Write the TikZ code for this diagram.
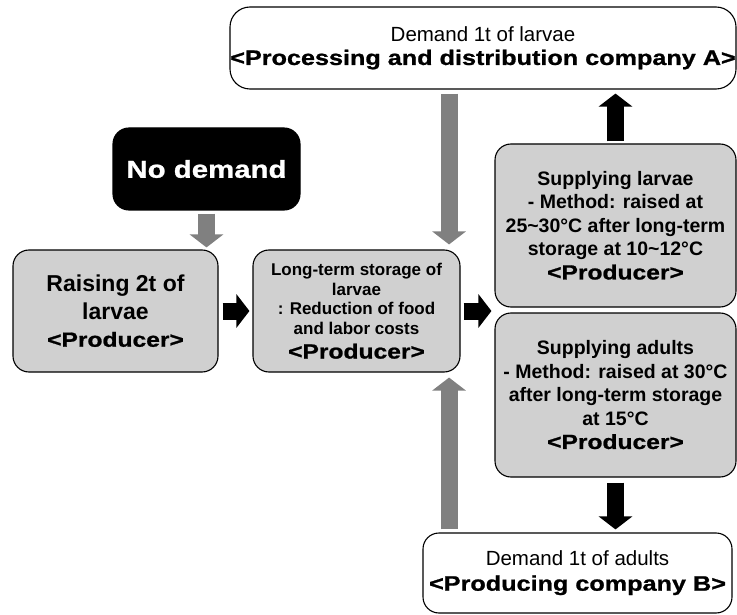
\documentclass[tikz,border=0pt]{standalone}
\usepackage{fontspec}
\setmainfont{Liberation Sans}
\newfontfamily\heavyfont{Liberation Sans}[FakeStretch=1.2,FakeBold=1]
\usetikzlibrary{arrows.meta}
\definecolor{boxgray}{RGB}{208,208,208}
\definecolor{arrgray}{RGB}{128,128,128}
\newcommand\tld{\char"7E\relax}
\newcommand\hv[1]{{\heavyfont\bfseries\fontsize{20.5}{25}\selectfont #1}}

\begin{document}
\begin{tikzpicture}[x=1pt,y=-1pt,
	box/.style={draw,line width=1.1pt,rounded corners=16pt,align=center,inner sep=0pt},
	graybox/.style={box,fill=boxgray},
	whitebox/.style={box,fill=white},
	bigarr/.style={line width=17pt,-{Triangle[width=33pt,length=13pt]}},
	grayarr/.style={bigarr,color=arrgray},
	blackarr/.style={bigarr,color=black}]

\useasboundingbox (0,0) rectangle (737,615);

\node [whitebox,minimum width=506pt,minimum height=82pt,rounded corners=20pt,
	font=\fontsize{20.5}{23.5}\selectfont] (compA) at (483,48)
	{Demand 1t of larvae\\{\heavyfont\bfseries\fontsize{21}{23.5}\selectfont <Processing and distribution company A>}};

\node [box,fill=black,text=white,minimum width=187pt,minimum height=82pt,
	font=\heavyfont\bfseries\fontsize{24.5}{28}\selectfont] (nodem) at (206.5,169) {No demand};

\node [graybox,minimum width=205pt,minimum height=122pt,
	font=\bfseries\fontsize{23}{27.5}\selectfont] (raise) at (115.5,311)
	{Raising 2t of\\larvae\\\hv{<Producer>}};

\node [graybox,minimum width=207pt,minimum height=122pt,
	font=\bfseries\fontsize{17}{19.5}\selectfont] (store) at (356.5,311)
	{Long-term storage of\\larvae\\: Reduction of food\\and labor costs\\[5pt]\hv{<Producer>}};

\node [graybox,minimum width=241pt,minimum height=163pt,
	font=\bfseries\fontsize{19.5}{23.5}\selectfont] (larvae) at (615.5,225.5)
	{Supplying larvae\\- Method: raised at\\25\tld30°C after long-term\\storage at 10\tld12°C\\\hv{<Producer>}};

\node [graybox,minimum width=241pt,minimum height=164pt,
	font=\bfseries\fontsize{19.5}{23.5}\selectfont] (adults) at (615.5,395)
	{Supplying adults\\- Method: raised at 30°C\\after long-term storage\\at 15°C\\\hv{<Producer>}};

\node [whitebox,minimum width=309pt,minimum height=80pt,
	font=\fontsize{20.5}{25}\selectfont] (compB) at (577.5,573)
	{Demand 1t of adults\\{\heavyfont\bfseries\fontsize{21}{25}\selectfont <Producing company B>}};

\path (store.north east) ++(-11.5,0) coordinate (midx);

\draw [grayarr,shorten <=3pt,shorten >=2pt] (nodem.south) -- (nodem.south |- raise.north);
\draw [grayarr,shorten <=4pt,shorten >=5pt] (compA.south -| midx) -- (midx);
\draw [grayarr,shorten <=3pt,shorten >=5pt] (compB.north -| midx) -- (store.south -| midx);

\draw [blackarr,shorten <=4pt,shorten >=3pt] (raise) -- (store);
\draw [blackarr,shorten <=3pt,shorten >=3pt] (store.east) -- (store.east -| larvae.west);
\draw [blackarr,shorten <=2pt,shorten >=4pt] (larvae.north) -- (larvae.north |- compA.south);
\draw [blackarr,shorten <=5pt,shorten >=3pt] (adults.south) -- (adults.south |- compB.north);

\end{tikzpicture}
\end{document}
